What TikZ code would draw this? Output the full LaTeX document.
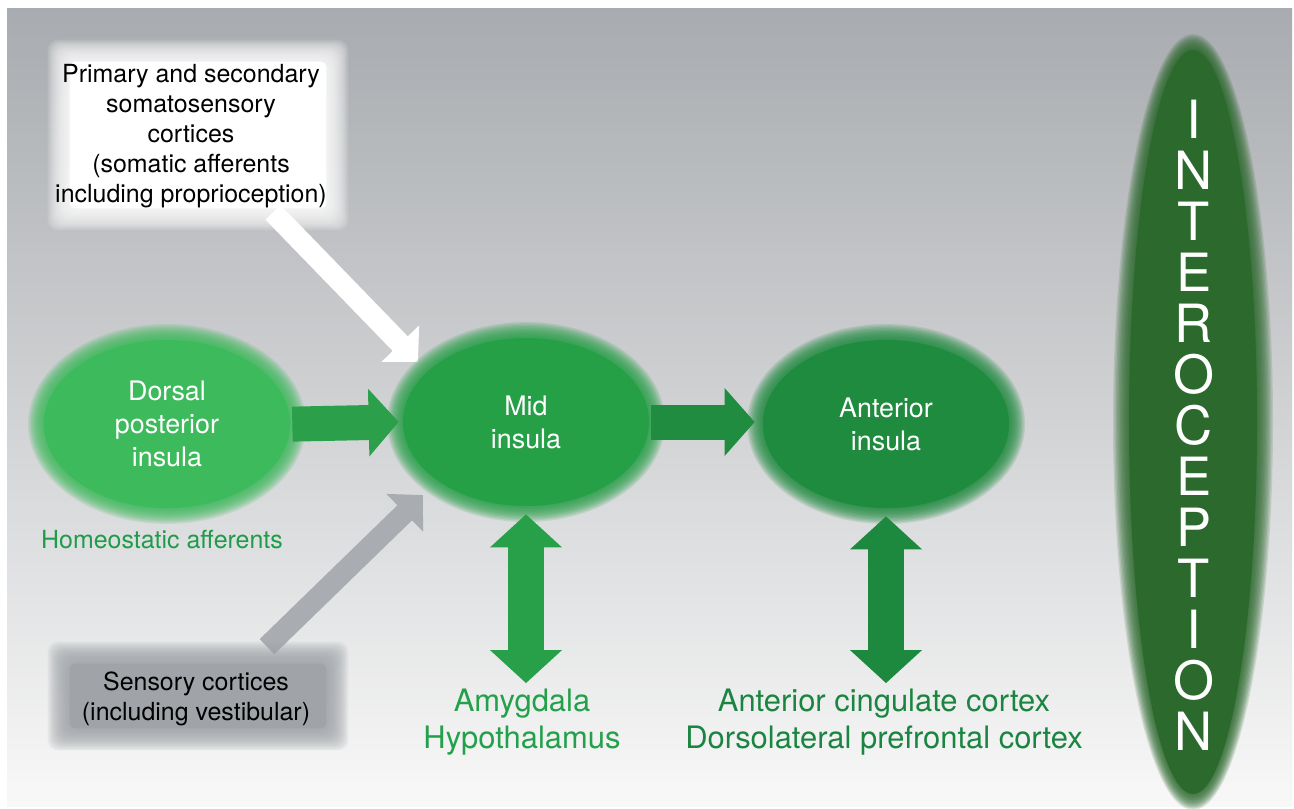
\documentclass[tikz,border=0pt]{standalone}
\usepackage{fontspec}
\setmainfont{TeX Gyre Heros}
\usetikzlibrary{arrows.meta,shapes.geometric,calc}
\definecolor{bgtop}{HTML}{A8ABAF}
\definecolor{bgmid}{HTML}{CFD1D4}
\definecolor{bgbot}{HTML}{F8F8F8}
\definecolor{dpgreen}{HTML}{3DBA5B}
\definecolor{midgreen}{HTML}{26A047}
\definecolor{antgreen}{HTML}{1E8B3E}
\definecolor{intgreen}{HTML}{2B692C}
\definecolor{arrowA}{HTML}{2C9F4A}
\definecolor{arrowB}{HTML}{1F8C40}
\definecolor{dblA}{HTML}{28A049}
\definecolor{dblB}{HTML}{1D893E}
\definecolor{txtA}{HTML}{1F9B4A}
\definecolor{txtB}{HTML}{22A04A}
\definecolor{txtC}{HTML}{1A8540}
\definecolor{grayarrow}{HTML}{A9ACB0}
\definecolor{graybox}{HTML}{A0A4A8}
\pgfdeclarelayer{back}
\pgfdeclarelayer{diag}
\pgfdeclarelayer{glow}
\pgfsetlayers{back,diag,glow,main}
\newcommand{\softell}[4]{%
  \foreach \k in {0,...,11}{\fill[#4,opacity=0.15] (#1) ellipse [x radius={#2+8-1.4*\k}, y radius={#3+8-1.4*\k}];}
  \fill[#4] (#1) ellipse [x radius={#2-8}, y radius={#3-8}];}
\newcommand{\softrect}[3]{%
  \foreach \k in {0,...,13}{\fill[#2,opacity=0.13,rounded corners=6pt] ($(#1.north west)+({-#3+1.6*\k},{-#3+1.6*\k})$) rectangle ($(#1.south east)+({#3-1.6*\k},{#3-1.6*\k})$);}
  \fill[#2,rounded corners=3pt] ($(#1.north west)+({-#3+22},{-#3+22})$) rectangle ($(#1.south east)+({#3-22},{#3-22})$);}
\begin{document}
\begin{tikzpicture}[x=0.02cm,y=-0.02cm,
  insula/.style={ellipse,minimum width=5.24cm,minimum height=3.68cm,inner sep=0pt,text=white,align=center,font=\fontsize{15.3}{18.7}\selectfont},
  blackbox/.style={rectangle,inner sep=0pt,align=center,font=\fontsize{14.2}{17}\selectfont},
  outtext/.style={inner sep=0pt,align=center,font=\fontsize{17.6}{21.5}\selectfont},
  letter/.style={inner sep=0pt,anchor=base,text=white,font=\fontsize{30}{30}\selectfont},
  harrow/.style={line width=0.7cm,-{Triangle[length=0.6cm,width=1.32cm]}},
  varrow/.style={line width=0.72cm,{Triangle[length=0.66cm,width=1.4cm]}-{Triangle[length=0.66cm,width=1.4cm]}},
  darrow/.style={line width=0.42cm,-{Triangle[length=0.51cm,width=1.02cm]}}
]
\useasboundingbox (0,0) rectangle (1294,808);
\begin{pgfonlayer}{back}
\fill[white] (0,0) rectangle (1294,808);
\shade[top color=bgtop,middle color=bgmid,bottom color=bgbot] (7,8) rectangle (1292,806);
\end{pgfonlayer}

% boxes
\node[blackbox,minimum width=5.6cm,minimum height=3.4cm] (soma) at (198,135) {};
\node[blackbox] (somatext) at (191,136) {Primary and secondary\\somatosensory\\cortices\\(somatic afferents\\including proprioception)};
\node[blackbox,minimum width=5.6cm,minimum height=1.76cm] (sens) at (198,696) {};
\node[blackbox] (senstext) at (196,699) {Sensory cortices\\(including vestibular)};

% insula ellipses
\node[insula] (dp) at (167,424) {Dorsal\\posterior\\insula};
\node[insula] (mid) at (526,422) {Mid\\insula};
\node[insula] (ant) at (886,424) {Anterior\\insula};

% interoception
\node[ellipse,minimum width=2.88cm,minimum height=15.2cm,inner sep=0pt] (intero) at (1193,422) {};
\foreach \c [count=\i from 0] in {I,N,T,E,R,O,C,E,P,T,I,O,N}{
  \node[letter] (L\i) at (1194,{138+51*\i}) {\c};
}

% texts
\node[inner sep=0pt,text=txtA,font=\fontsize{14.2}{17}\selectfont] (homeo) at (162,540) {Homeostatic afferents};
\node[outtext,text=txtB] (amy) at (522,722) {Amygdala\\Hypothalamus};
\node[outtext,text=txtC] (acc) at (884,722) {Anterior cingulate cortex\\Dorsolateral prefrontal cortex};

% glows
\begin{pgfonlayer}{glow}
\softrect{soma}{white}{10}
\softrect{sens}{graybox}{10}
\softell{dp.center}{131}{92}{dpgreen}
\softell{mid.center}{131}{92}{midgreen}
\softell{ant.center}{131}{92}{antgreen}
\softell{intero.center}{72}{380}{intgreen}
\end{pgfonlayer}

% diagonal arrows
\coordinate (wstart) at ($(soma.south)+(75,-8)$);
\coordinate (wtip) at (418,362);
\coordinate (gstart) at ($(sens.north)+(69,-5)$);
\coordinate (gtip) at (423,495);
\begin{pgfonlayer}{diag}
\draw[darrow,white] (wstart) -- (wtip);
\draw[darrow,grayarrow] (gstart) -- (gtip);
\end{pgfonlayer}

% horizontal arrows
\draw[harrow,arrowA,shorten <=-0.12cm,shorten >=-0.08cm] (dp.east) -- (mid.west);
\draw[harrow,arrowB,shorten <=-0.12cm] (mid.east) -- (mid.east -| ant.west);
% vertical double arrows
\draw[varrow,dblA,shorten >=0.1cm] (mid.south) -- (mid.south |- amy.north);
\draw[varrow,dblB,shorten >=0.1cm] (ant.south) -- (ant.south |- acc.north);
\end{tikzpicture}
\end{document}
